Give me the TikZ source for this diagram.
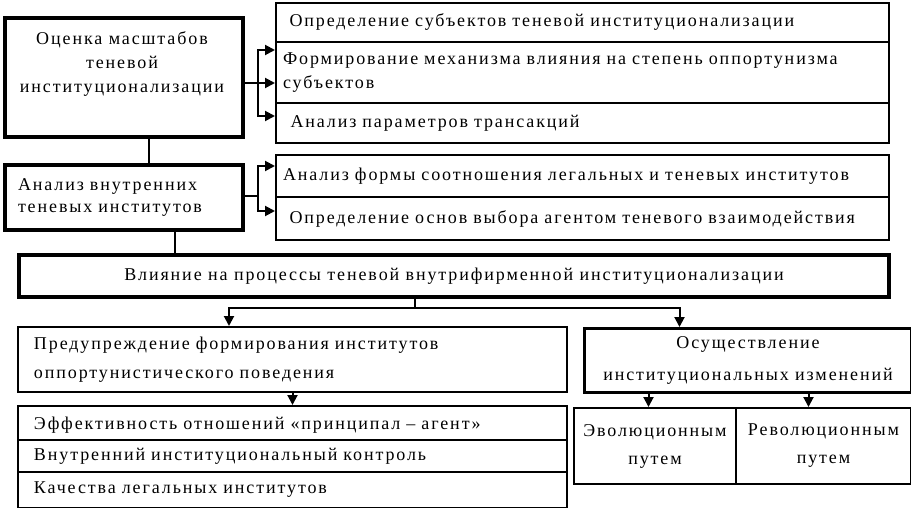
\documentclass[tikz,border=0pt]{standalone}
\usepackage{fontspec}
\setmainfont{Liberation Serif}[LetterSpace=10.5]
\usetikzlibrary{positioning,arrows.meta}

\tikzset{
  boldbox/.style={draw, line width=4pt, inner sep=0pt},
  thinbox/.style={draw, line width=2pt, inner sep=0pt},
  link/.style={line width=2pt},
  arr/.style={line width=2pt, -{Triangle[length=10pt,width=10pt]}},
}

\begin{document}
\begin{tikzpicture}[x=1pt,y=-1pt,font=\fontsize{18}{24}\selectfont]
\useasboundingbox (0,0) rectangle (911,508);

% left column
\node[boldbox, anchor=north west, minimum width=238, minimum height=119] (est) at (3,16) {};
\node[align=center] (esttxt) at (122,64) {Оценка масштабов\\теневой\\институционализации};
\node[boldbox, anchor=north west, minimum width=238, minimum height=65, text width=212, align=left, font=\fontsize{18}{22}\selectfont] (anl) at (3,163) {Анализ внутренних\\теневых институтов};

% right groups
\node[thinbox, anchor=north west, minimum width=613, minimum height=39, text width=586, align=left] (g11) at (275,2) {Определение субъектов теневой институционализации};
\node[thinbox, anchor=north west, minimum width=613, minimum height=61, text width=599, align=left] (g12) at (275,41) {Формирование механизма влияния на степень оппортунизма\\субъектов};
\node[thinbox, anchor=north west, minimum width=613, minimum height=40, text width=584, align=left] (g13) at (275,102) {Анализ параметров трансакций};
\node[thinbox, anchor=north west, minimum width=613, minimum height=42, text width=599, align=left] (g21) at (275,154) {Анализ формы соотношения легальных и теневых институтов};
\node[thinbox, anchor=north west, minimum width=613, minimum height=43, text width=586, align=left] (g22) at (275,196) {Определение основ выбора агентом теневого взаимодействия};

% main box
\node[boldbox, anchor=north west, minimum width=870, minimum height=42] (infl) at (17,253) {Влияние на процессы теневой внутрифирменной институционализации};

% lower part
\node[thinbox, anchor=north west, minimum width=549, minimum height=65, text width=517, align=left, font=\fontsize{18}{29}\selectfont] (warn) at (17,326) {Предупреждение формирования институтов\\оппортунистического поведения};
\node[thinbox, anchor=north west, minimum width=549, minimum height=34, text width=517, align=left, text depth=0pt] (e1) at (17,405) {Эффективность отношений «принципал -- агент»};
\node[thinbox, anchor=north west, minimum width=549, minimum height=32, text width=517, align=left] (e2) at (17,439) {Внутренний институциональный контроль};
\node[thinbox, anchor=north west, minimum width=549, minimum height=36, text width=517, align=left] (e3) at (17,471) {Качества легальных институтов};
\node[thinbox, line width=3pt, anchor=north west, minimum width=327, minimum height=64, align=center, font=\fontsize{18}{32}\selectfont] (impl) at (583,327) {Осуществление\\институциональных изменений};
\node[thinbox, anchor=north west, minimum width=162, minimum height=76, align=center, font=\fontsize{18}{28}\selectfont] (evo) at (573,407) {Эволюционным\\путем};
\node[thinbox, anchor=north west, minimum width=175, minimum height=76, align=center, font=\fontsize{18}{28}\selectfont] (rev) at (735,407) {Революционным\\путем};

% connectors
\coordinate (f1) at (258,83);
\draw[link] (f1 -| est.east) -- (f1);
\foreach \y in {50,83,116}
  \draw[arr] (f1) |- (g12.west |- 0,\y);
\coordinate (f2) at (258,196);
\draw[link] (f2 -| anl.east) -- (f2);
\foreach \y in {166,211}
  \draw[arr] (f2) |- (g21.west |- 0,\y);
\draw[link] ([xshift=25]est.south) -- ([xshift=25]anl.north);
\draw[link] ([xshift=51]anl.south) -- ([xshift=51]anl.south |- infl.north);
\coordinate (f3) at (415,308);
\draw[link] (f3 |- infl.south) -- (f3);
\draw[arr] (f3) -| ([xshift=-63.5]warn.north);
\draw[arr] (f3) -| ([xshift=-68.5]impl.north);
\draw[arr] (warn.south) -- (e1.north);
\draw[arr] ([xshift=-99.5]impl.south) -- ([xshift=-99.5]impl.south |- evo.north);
\draw[arr] ([xshift=60.5]impl.south) -- ([xshift=60.5]impl.south |- rev.north);
\end{tikzpicture}
\end{document}
